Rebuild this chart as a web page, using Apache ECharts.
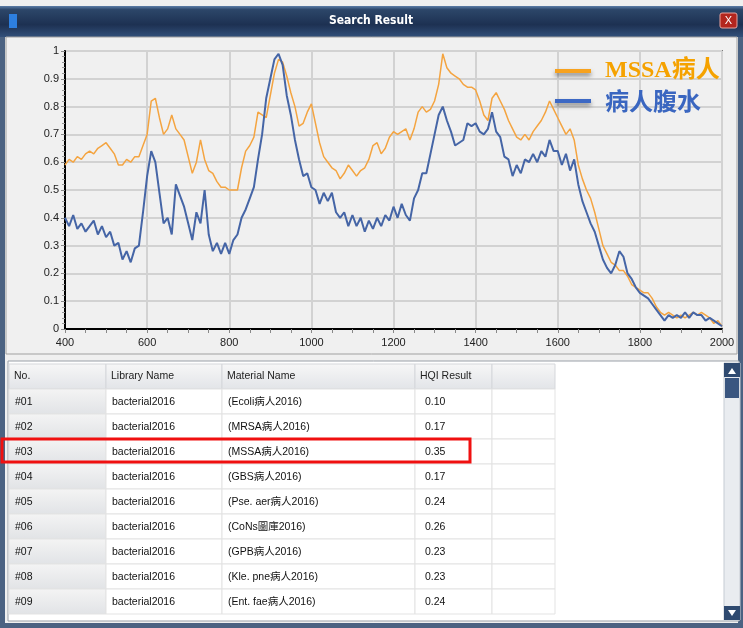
<!DOCTYPE html>
<html>
<head>
<meta charset="utf-8">
<script src="https://cdn.jsdelivr.net/npm/echarts@6/dist/echarts.min.js"></script>
<style>
  html, body { margin: 0; padding: 0; background: #fff; }
  #main { width: 743px; height: 628px; }
</style>
</head>
<body>
<div id="main"></div>
<script>
// spectra sampled every 10 cm-1 from 400 to 2000
const wavenumbers = []
for (let w = 400; w <= 2000; w += 10) wavenumbers.push(w)

const mssaValues = [
  0.59, 0.61, 0.60, 0.62, 0.61, 0.63, 0.64, 0.63, 0.65, 0.66,
  0.67, 0.65, 0.63, 0.59, 0.59, 0.61, 0.60, 0.62, 0.62, 0.66,
  0.70, 0.82, 0.83, 0.76, 0.70, 0.72, 0.77, 0.72, 0.70, 0.68,
  0.62, 0.56, 0.60, 0.68, 0.61, 0.57, 0.56, 0.53, 0.51, 0.51,
  0.50, 0.50, 0.50, 0.58, 0.64, 0.66, 0.69, 0.78, 0.77, 0.76,
  0.84, 0.92, 0.97, 0.96, 0.91, 0.85, 0.80, 0.73, 0.74, 0.78,
  0.81, 0.74, 0.67, 0.62, 0.60, 0.58, 0.57, 0.54, 0.56, 0.59,
  0.57, 0.55, 0.57, 0.58, 0.61, 0.66, 0.67, 0.63, 0.65, 0.69,
  0.71, 0.70, 0.71, 0.72, 0.68, 0.72, 0.78, 0.80, 0.78, 0.79,
  0.82, 0.88, 0.99, 0.94, 0.92, 0.91, 0.90, 0.88, 0.87, 0.87,
  0.86, 0.82, 0.77, 0.75, 0.83, 0.85, 0.82, 0.79, 0.75, 0.72,
  0.69, 0.68, 0.70, 0.68, 0.71, 0.73, 0.75, 0.78, 0.82, 0.79,
  0.76, 0.73, 0.70, 0.72, 0.68, 0.59, 0.54, 0.50, 0.47, 0.42,
  0.36, 0.30, 0.27, 0.24, 0.23, 0.21, 0.21, 0.19, 0.16, 0.15,
  0.14, 0.13, 0.13, 0.11, 0.08, 0.06, 0.05, 0.06, 0.05, 0.04,
  0.05, 0.04, 0.05, 0.06, 0.05, 0.06, 0.05, 0.04, 0.02, 0.03,
  0.01
]

const ascitesValues = [
  0.40, 0.37, 0.41, 0.36, 0.38, 0.35, 0.37, 0.39, 0.34, 0.37,
  0.33, 0.35, 0.30, 0.31, 0.25, 0.28, 0.24, 0.29, 0.30, 0.42,
  0.55, 0.64, 0.60, 0.49, 0.38, 0.40, 0.34, 0.52, 0.48, 0.44,
  0.38, 0.32, 0.42, 0.38, 0.50, 0.34, 0.28, 0.31, 0.27, 0.31,
  0.27, 0.32, 0.34, 0.40, 0.43, 0.47, 0.51, 0.61, 0.70, 0.83,
  0.90, 0.97, 0.99, 0.95, 0.84, 0.77, 0.68, 0.61, 0.55, 0.56,
  0.51, 0.50, 0.45, 0.49, 0.46, 0.49, 0.42, 0.40, 0.42, 0.37,
  0.41, 0.37, 0.40, 0.35, 0.39, 0.36, 0.40, 0.37, 0.41, 0.39,
  0.44, 0.40, 0.45, 0.41, 0.39, 0.47, 0.50, 0.56, 0.56, 0.63,
  0.70, 0.77, 0.80, 0.75, 0.71, 0.66, 0.67, 0.68, 0.74, 0.73,
  0.74, 0.71, 0.70, 0.72, 0.78, 0.71, 0.69, 0.62, 0.61, 0.55,
  0.59, 0.56, 0.61, 0.60, 0.63, 0.60, 0.64, 0.62, 0.68, 0.64,
  0.64, 0.59, 0.63, 0.57, 0.61, 0.52, 0.46, 0.42, 0.38, 0.35,
  0.30, 0.25, 0.22, 0.20, 0.23, 0.28, 0.26, 0.20, 0.18, 0.15,
  0.13, 0.12, 0.11, 0.09, 0.07, 0.05, 0.03, 0.05, 0.04, 0.05,
  0.04, 0.06, 0.04, 0.06, 0.05, 0.05, 0.03, 0.04, 0.03, 0.02,
  0.01
]

const seriesNames = ['MSSA病人', '病人腹水']

const colHeaders = ['No.', 'Library Name', 'Material Name', 'HQI Result', '']
const rowNo = ['#01', '#02', '#03', '#04', '#05', '#06', '#07', '#08', '#09']
const rowLibrary = ['bacterial2016', 'bacterial2016', 'bacterial2016', 'bacterial2016', 'bacterial2016',
  'bacterial2016', 'bacterial2016', 'bacterial2016', 'bacterial2016']
const rowMaterial = ['(Ecoli病人2016)', '(MRSA病人2016)', '(MSSA病人2016)', '(GBS病人2016)', '(Pse. aer病人2016)',
  '(CoNs圖庫2016)', '(GPB病人2016)', '(Kle. pne病人2016)', '(Ent. fae病人2016)']
const rowHqi = ['0.10', '0.17', '0.35', '0.17', '0.24', '0.26', '0.23', '0.23', '0.24']

const chart = echarts.init(document.getElementById('main'))

// window chrome + result table, drawn as graphic elements
const colX = [9, 106, 222, 415, 492, 555]
const headTop = 364, headH = 25, rowH = 25
const cellFont = '10.5px "Liberation Sans", "Noto Sans CJK TC", sans-serif'
const g = []

g.push({ type: 'rect', shape: { x: 0, y: 36, width: 743, height: 592 }, style: { fill: '#4b6282' }, z: -10 })
g.push({ type: 'rect', shape: { x: 5, y: 36, width: 733, height: 587 }, style: { fill: '#f0f0f0' }, z: -9 })
g.push({ type: 'rect', shape: { x: 0, y: 6, width: 743, height: 31 },
  style: { fill: new echarts.graphic.LinearGradient(0, 0, 0, 1, [
    { offset: 0, color: '#5d7ea8' }, { offset: 0.12, color: '#2c4669' },
    { offset: 0.6, color: '#1d3152' }, { offset: 1, color: '#32507a' }]) }, z: -8 })
g.push({ type: 'text', x: 371, y: 21, style: { text: 'Search Result', fill: '#fff',
  font: 'bold 12px "DejaVu Sans Condensed", "DejaVu Sans", sans-serif', align: 'center', verticalAlign: 'middle' } })
g.push({ type: 'rect', shape: { x: 720, y: 13, width: 17, height: 15, r: 2 },
  style: { fill: '#b3261e', stroke: '#e8a39e', lineWidth: 1 } })
g.push({ type: 'text', x: 728.5, y: 20.5, style: { text: 'X', fill: '#fff', font: '11px sans-serif', align: 'center', verticalAlign: 'middle' } })
g.push({ type: 'rect', shape: { x: 9, y: 14, width: 8, height: 14 }, style: { fill: '#2d7fe0' } })

// chart panel border
g.push({ type: 'rect', shape: { x: 6, y: 37, width: 731, height: 317 }, style: { fill: 'none', stroke: '#a0a0a0', lineWidth: 1 }, z: -5 })
// table panel
g.push({ type: 'rect', shape: { x: 8, y: 361, width: 731, height: 260 }, style: { fill: '#fff', stroke: '#9aa0a8', lineWidth: 1 }, z: -5 })

// header
for (let c = 0; c < colHeaders.length; c++) {
  g.push({ type: 'rect', shape: { x: colX[c], y: headTop, width: colX[c + 1] - colX[c], height: headH },
    style: { fill: new echarts.graphic.LinearGradient(0, 0, 0, 1, [{ offset: 0, color: '#f7f7f7' }, { offset: 1, color: '#e2e4e8' }]),
      stroke: '#d5d7db', lineWidth: 1 } })
  g.push({ type: 'text', x: colX[c] + 5, y: headTop + headH / 2, style: { text: colHeaders[c], fill: '#222', font: cellFont, verticalAlign: 'middle' } })
}
// rows
for (let r = 0; r < rowNo.length; r++) {
  const y = headTop + headH + r * rowH
  const cells = [rowNo[r], rowLibrary[r], rowMaterial[r], rowHqi[r], '']
  for (let c = 0; c < cells.length; c++) {
    const first = c === 0
    g.push({ type: 'rect', shape: { x: colX[c], y: y, width: colX[c + 1] - colX[c], height: rowH },
      style: { fill: first ? new echarts.graphic.LinearGradient(0, 0, 0, 1, [{ offset: 0, color: '#f4f4f4' }, { offset: 1, color: '#e1e3e6' }]) : '#fff',
        stroke: '#e3e3e3', lineWidth: 1 } })
    g.push({ type: 'text', x: colX[c] + (c === 3 ? 10 : 6), y: y + rowH / 2 + 1,
      style: { text: cells[c], fill: '#111', font: cellFont, verticalAlign: 'middle' } })
  }
}
// highlighted result
g.push({ type: 'rect', shape: { x: 2, y: 439, width: 468, height: 23 }, style: { fill: 'none', stroke: '#f01010', lineWidth: 3 }, z: 20 })

// scrollbar
g.push({ type: 'rect', shape: { x: 724, y: 363, width: 16, height: 257 }, style: { fill: '#e9ecf0', stroke: '#c5cbd3' } })
g.push({ type: 'rect', shape: { x: 724, y: 363, width: 16, height: 14 }, style: { fill: '#2f4a70' } })
g.push({ type: 'polygon', shape: { points: [[728, 374], [736, 374], [732, 368]] }, style: { fill: '#fff' } })
g.push({ type: 'rect', shape: { x: 725, y: 378, width: 14, height: 20 }, style: { fill: '#3a5680' } })
g.push({ type: 'rect', shape: { x: 724, y: 606, width: 16, height: 14 }, style: { fill: '#2f4a70' } })
g.push({ type: 'polygon', shape: { points: [[728, 610], [736, 610], [732, 616]] }, style: { fill: '#fff' } })

chart.setOption({
  backgroundColor: '#f0f0f0',
  animation: false,
  textStyle: { fontFamily: '"Liberation Sans", sans-serif' },
  grid: { left: 65, top: 51, width: 657, height: 278, show: true, backgroundColor: '#f0f0f0', borderColor: '#7a7a7a', borderWidth: 2 },
  legend: {
    orient: 'vertical', left: 550, top: 54, itemWidth: 36, itemHeight: 4, itemGap: 6, icon: 'rect',
    data: [
      { name: seriesNames[0], itemStyle: { color: '#f7a21e', shadowBlur: 4, shadowColor: 'rgba(0,0,0,0.45)', shadowOffsetY: 3 },
        textStyle: { color: '#f5a200', fontSize: 24, fontWeight: 'bold', fontFamily: '"Liberation Serif", "Noto Sans CJK TC", serif', padding: [0, 0, 0, 9] } },
      { name: seriesNames[1], itemStyle: { color: '#3c68c4', shadowBlur: 4, shadowColor: 'rgba(0,0,0,0.45)', shadowOffsetY: 3 },
        textStyle: { color: '#3a66c0', fontSize: 24, fontWeight: 'bold', fontFamily: '"Noto Sans CJK TC", sans-serif', padding: [0, 0, 0, 9] } }
    ]
  },
  xAxis: {
    type: 'value', min: 400, max: 2000, interval: 200,
    axisLine: { lineStyle: { color: '#000', width: 2 } },
    axisTick: { show: true, length: 4, lineStyle: { color: '#888' } },
    minorTick: { show: true, splitNumber: 4, length: 4, lineStyle: { color: '#888' } },
    splitLine: { lineStyle: { color: '#d2d2d2', width: 2 } },
    axisLabel: { color: '#222', fontSize: 11, margin: 8, formatter: v => String(v) }
  },
  yAxis: {
    type: 'value', min: 0, max: 1, interval: 0.1,
    axisLine: { show: true, lineStyle: { color: '#000', width: 2 } },
    axisTick: { show: true, length: 4, lineStyle: { color: '#888' } },
    minorTick: { show: true, splitNumber: 5, length: 3, lineStyle: { color: '#999' } },
    splitLine: { lineStyle: { color: '#d2d2d2', width: 2 } },
    axisLabel: { color: '#222', fontSize: 11, margin: 6 }
  },
  series: [
    { name: seriesNames[0], type: 'line', showSymbol: false, color: '#f4a440',
      lineStyle: { width: 1.5, color: '#f4a440' },
      data: wavenumbers.map((w, i) => [w, mssaValues[i]]) },
    { name: seriesNames[1], type: 'line', showSymbol: false, color: '#4565a6',
      lineStyle: { width: 2, color: '#4565a6' },
      data: wavenumbers.map((w, i) => [w, ascitesValues[i]]) }
  ],
  graphic: { elements: g }
})
</script>
</body>
</html>
